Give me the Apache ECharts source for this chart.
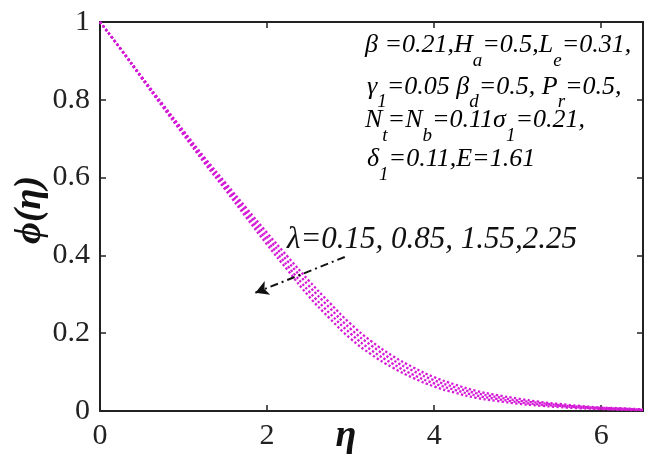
<!DOCTYPE html>
<html>
<head>
<meta charset="utf-8">
<script src="https://cdn.jsdelivr.net/npm/echarts@6/dist/echarts.min.js"></script>
<style>
html,body{margin:0;padding:0;background:#fff;}
#main{width:661px;height:461px;}
</style>
</head>
<body>
<div id="main"></div>
<script>
// eta grid
var eta = [0, 0.25, 0.5, 0.75, 1.0, 1.25, 1.5, 1.75, 2.0, 2.25, 2.5, 2.75, 3.0, 3.25, 3.5,
	3.75, 4.0, 4.25, 4.5, 4.75, 5.0, 5.25, 5.5, 5.75, 6.0, 6.25, 6.5];
// phi(eta) for lambda = 0.15, 0.85, 1.55, 2.25
var phi1 = [1, 0.931, 0.859, 0.789, 0.720, 0.652, 0.587, 0.522, 0.458, 0.396, 0.335, 0.278, 0.224, 0.179, 0.142,
	0.112, 0.087, 0.068, 0.052, 0.041, 0.032, 0.024, 0.018, 0.013, 0.009, 0.007, 0.004];
var phi2 = [1, 0.930, 0.858, 0.786, 0.717, 0.647, 0.581, 0.514, 0.448, 0.384, 0.322, 0.265, 0.211, 0.168, 0.132,
	0.103, 0.079, 0.061, 0.046, 0.036, 0.027, 0.021, 0.015, 0.011, 0.008, 0.006, 0.003];
var phi3 = [1, 0.930, 0.856, 0.784, 0.713, 0.643, 0.575, 0.506, 0.438, 0.372, 0.308, 0.251, 0.199, 0.156, 0.122,
	0.093, 0.071, 0.054, 0.040, 0.031, 0.023, 0.017, 0.013, 0.009, 0.006, 0.004, 0.003];
var phi4 = [1, 0.929, 0.855, 0.782, 0.710, 0.638, 0.569, 0.498, 0.428, 0.361, 0.295, 0.238, 0.186, 0.145, 0.112,
	0.085, 0.063, 0.047, 0.034, 0.026, 0.019, 0.014, 0.010, 0.007, 0.005, 0.003, 0.002];
var lambdas = ['0.15', '0.85', '1.55', '2.25'];
var xTicks = [0, 2, 4, 6];
var yTicks = [0, 0.2, 0.4, 0.6, 0.8, 1];

var serif = 'Liberation Serif';
var magenta = '#d41ad6';

function pairs(ys) {
	var out = [];
	for (var i = 0; i < eta.length; i++) {
		out.push([eta[i], ys[i]]);
	}
	return out;
}

var allPhi = [phi1, phi2, phi3, phi4];
var series = [];
for (var k = 0; k < allPhi.length; k++) {
	series.push({
		name: 'lambda=' + lambdas[k],
		type: 'line',
		smooth: true,
		showSymbol: false,
		silent: true,
		lineStyle: { color: magenta, width: 2.3, type: 'dotted' },
		data: pairs(allPhi[k])
	});
}
// arrow pointing toward increasing lambda
series[0].markLine = {
	silent: true,
	symbol: ['none', 'arrow'],
	symbolSize: [11, 13],
	label: { show: false },
	lineStyle: { color: '#111', width: 2, type: [8, 4, 2, 4] },
	data: [[{ coord: [2.93, 0.396] }, { coord: [1.86, 0.304] }]]
};

var subStyle = { fontFamily: serif, fontStyle: 'italic', fontSize: 19, padding: [30, 0, 0, 0], color: '#111' };
var mainStyle = { fontFamily: serif, fontStyle: 'italic', fontSize: 26, color: '#111' };

function note(x, y, text) {
	return {
		type: 'text', x: x, y: y, silent: true,
		style: { text: text, verticalAlign: 'middle', rich: { n: mainStyle, s: subStyle } }
	};
}

var myChart = echarts.init(document.getElementById('main'));
var option = {
	animation: false,
	backgroundColor: '#fff',
	grid: { left: 100, right: 18, top: 22, bottom: 50, containLabel: false, outerBoundsMode: 'none' },
	xAxis: [{
		type: 'value', min: 0, max: 6.5, interval: 2,
		axisLine: { lineStyle: { color: '#222', width: 2 } },
		axisTick: { inside: true, length: 6, lineStyle: { color: '#222', width: 1.5 } },
		axisLabel: {
			margin: 10, color: '#222', fontFamily: serif, fontSize: 30,
			formatter: function (v) { return xTicks.indexOf(v) >= 0 ? String(v) : ''; }
		},
		splitLine: { show: false }
	}, {
		type: 'value', min: 0, max: 6.5, interval: 2, position: 'top',
		axisLine: { onZero: false, lineStyle: { color: '#222', width: 2 } },
		axisTick: { inside: true, length: 6, lineStyle: { color: '#222', width: 1.5 } },
		axisLabel: { show: false },
		splitLine: { show: false }
	}],
	yAxis: [{
		type: 'value', min: 0, max: 1, interval: 0.2,
		axisLine: { show: true, lineStyle: { color: '#222', width: 2 } },
		axisTick: { show: true, inside: true, length: 6, lineStyle: { color: '#222', width: 1.5 } },
		axisLabel: {
			margin: 10, color: '#222', fontFamily: serif, fontSize: 30,
			formatter: function (v) { return yTicks.indexOf(Math.round(v * 10) / 10) >= 0 ? String(Math.round(v * 10) / 10) : ''; }
		},
		splitLine: { show: false }
	}, {
		type: 'value', min: 0, max: 1, interval: 0.2, position: 'right',
		axisLine: { show: true, onZero: false, lineStyle: { color: '#222', width: 2 } },
		axisTick: { show: true, inside: true, length: 6, lineStyle: { color: '#222', width: 1.5 } },
		axisLabel: { show: false },
		splitLine: { show: false }
	}],
	series: series,
	graphic: [
		note(365, 45.5, '{n|β =0.21,H}{s|a}{n|=0.5,L}{s|e}{n|=0.31,}'),
		note(367, 87, '{n|γ}{s|1}{n|=0.05 β}{s|d}{n|=0.5, P}{s|r}{n|=0.5,}'),
		note(365, 120.5, '{n|N}{s|t}{n|=N}{s|b}{n|=0.11σ}{s|1}{n|=0.21,}'),
		note(367, 159.5, '{n|δ}{s|1}{n|=0.11,E=1.61}'),
		{
			type: 'text', x: 287, y: 240, silent: true,
			style: {
				text: 'λ=' + lambdas.join(', ').replace('1.55, ', '1.55,'),
				fontFamily: serif, fontStyle: 'italic', fontSize: 31, fill: '#111', verticalAlign: 'middle'
			}
		},
		{
			type: 'text', x: 346, y: 436, silent: true,
			style: {
				text: 'η', fontFamily: serif, fontStyle: 'italic', fontWeight: 'bold', fontSize: 38,
				fill: '#111', align: 'center', verticalAlign: 'middle'
			}
		},
		{
			type: 'text', x: 30, y: 210, rotation: Math.PI / 2, silent: true,
			style: {
				text: 'ϕ(η)', fontFamily: serif, fontStyle: 'italic', fontWeight: 'bold', fontSize: 38,
				fill: '#111', align: 'center', verticalAlign: 'middle'
			}
		}
	]
};
myChart.setOption(option);
</script>
</body>
</html>
